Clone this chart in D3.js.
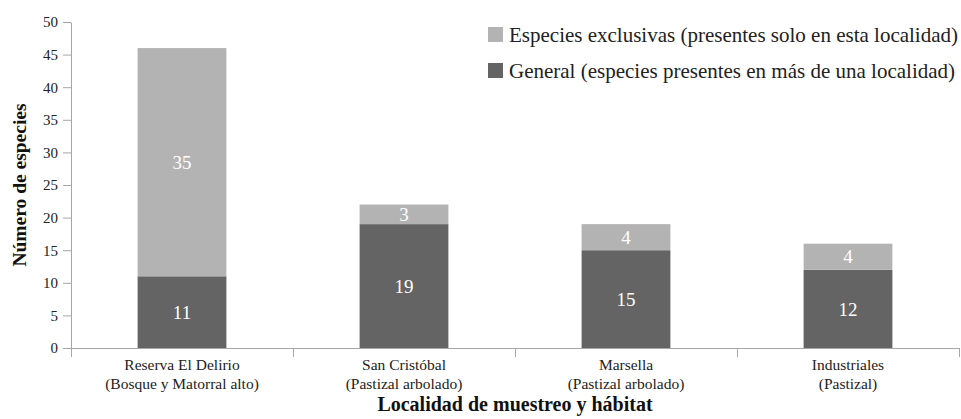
<!DOCTYPE html>
<html lang="es">
<head>
<meta charset="UTF-8">
<title>Número de especies por localidad</title>
<script src="https://d3js.org/d3.v7.min.js"></script>
<style>
  body { margin: 0; background: #fff; }
  svg { display: block; font-family: "Liberation Serif", "DejaVu Serif", serif; }
</style>
</head>
<body>
<div id="chart"></div>
<script>
// data
const localidades = ["Reserva El Delirio", "San Cristóbal", "Marsella", "Industriales"];
const habitats = ["(Bosque y Matorral alto)", "(Pastizal arbolado)", "(Pastizal arbolado)", "(Pastizal)"];
const general = [11, 19, 15, 12];
const exclusivas = [35, 3, 4, 4];
const yTicks = [0, 5, 10, 15, 20, 25, 30, 35, 40, 45, 50];
const serieNames = ["Especies exclusivas (presentes solo en esta localidad)",
                    "General (especies presentes en más de una localidad)"];

const width = 961, height = 419;
const plotLeft = 71, plotRight = 959, plotTop = 22, plotBottom = 348;
const colGeneral = "#646464", colExcl = "#b3b3b3", axisCol = "#a6a6a6";

const svg = d3.select("#chart").append("svg")
    .attr("width", width)
    .attr("height", height);

const x = d3.scaleBand()
    .domain(localidades)
    .range([plotLeft, plotRight])
    .paddingInner(0.6)
    .paddingOuter(0.3);

const xEdge = d3.scaleLinear()
    .domain([0, localidades.length])
    .range([plotLeft, plotRight]);

const y = d3.scaleLinear()
    .domain([0, 50])
    .range([plotBottom, plotTop]);

// y axis
const yAxis = svg.append("g")
    .attr("transform", `translate(${plotLeft},0)`)
    .call(d3.axisLeft(y).tickValues(yTicks).tickSize(8).tickSizeOuter(0).tickPadding(5));
yAxis.selectAll("line, path").attr("stroke", axisCol);
yAxis.selectAll("text")
    .style("font-family", "Liberation Serif")
    .style("font-size", "15px")
    .attr("fill", "#222");

// stacked bars
const rows = localidades.map((d, i) => ({ loc: d, general: general[i], exclusivas: exclusivas[i] }));
const stack = d3.stack().keys(["general", "exclusivas"])(rows);
const colors = { general: colGeneral, exclusivas: colExcl };

const layers = svg.selectAll(".layer")
    .data(stack)
    .enter().append("g")
    .attr("class", "layer")
    .attr("fill", d => colors[d.key]);

layers.selectAll("rect")
    .data(d => d)
    .enter().append("rect")
    .attr("x", d => x(d.data.loc))
    .attr("y", d => y(d[1]))
    .attr("width", x.bandwidth())
    .attr("height", d => y(d[0]) - y(d[1]));

layers.selectAll("text")
    .data(d => d)
    .enter().append("text")
    .attr("x", d => x(d.data.loc) + x.bandwidth() / 2)
    .attr("y", d => (y(d[0]) + y(d[1])) / 2)
    .attr("dy", "0.35em")
    .attr("text-anchor", "middle")
    .attr("fill", "#fff")
    .style("font-size", "19px")
    .text(d => d[1] - d[0]);

// x axis with category separators
const xAxis = svg.append("g")
    .attr("transform", `translate(0,${plotBottom})`)
    .call(d3.axisBottom(xEdge).ticks(localidades.length).tickFormat("").tickSize(9).tickSizeOuter(0));
xAxis.selectAll("line, path").attr("stroke", axisCol);

const labels = svg.append("g")
    .selectAll("text")
    .data(localidades)
    .enter().append("text")
    .attr("x", d => x(d) + x.bandwidth() / 2)
    .attr("y", 370)
    .attr("text-anchor", "middle")
    .attr("fill", "#222")
    .style("font-size", "15.5px");
labels.append("tspan").text(d => d);
labels.append("tspan")
    .attr("x", d => x(d) + x.bandwidth() / 2)
    .attr("dy", 19)
    .text((d, i) => habitats[i]);

// axis titles
svg.append("text")
    .attr("x", (plotLeft + plotRight) / 2)
    .attr("y", 411)
    .attr("text-anchor", "middle")
    .attr("font-weight", "bold")
    .attr("fill", "#111")
    .style("font-size", "20px")
    .text("Localidad de muestreo y hábitat");

svg.append("text")
    .attr("transform", `translate(26,${(plotTop + plotBottom) / 2}) rotate(-90)`)
    .attr("text-anchor", "middle")
    .attr("font-weight", "bold")
    .attr("fill", "#111")
    .style("font-size", "19.5px")
    .text("Número de especies");

// legend
const legend = svg.append("g")
    .selectAll("g")
    .data(serieNames)
    .enter().append("g")
    .attr("transform", (d, i) => `translate(488,${27 + i * 36})`);
legend.append("rect")
    .attr("width", 15)
    .attr("height", 15)
    .attr("fill", (d, i) => i === 0 ? colExcl : colGeneral);
legend.append("text")
    .attr("x", 21)
    .attr("y", 14.5)
    .attr("fill", "#222")
    .style("font-size", "21px")
    .text(d => d);
</script>
</body>
</html>
